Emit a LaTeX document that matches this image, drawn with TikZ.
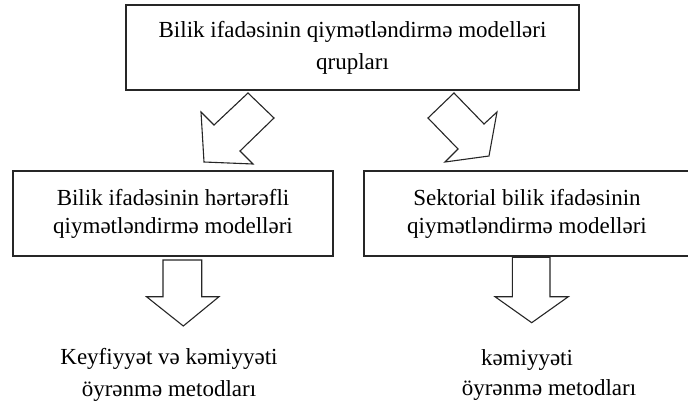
\documentclass[tikz,border=0pt]{standalone}
\usepackage{fontspec}
\setmainfont{Liberation Serif}
\begin{document}
\begin{tikzpicture}[x=1pt,y=-1pt,
  box/.style={draw=black!85, line width=1.1pt, inner sep=0pt, align=center, font=\fontsize{23}{28}\selectfont},
  blockarrow/.style={draw=black!85, line width=1.1pt, fill=white, line join=miter},
  lbl/.style={inner sep=0pt, align=center, font=\fontsize{23}{32}\selectfont}]
\useasboundingbox (0,0) rectangle (688,412);
\node[box, minimum width=453pt, minimum height=85pt, font=\fontsize{23}{32}\selectfont] (top) at (352.5,47.5) {Bilik ifadəsinin qiymətləndirmə modelləri\\qrupları};
\node[box, minimum width=320pt, minimum height=85pt] (left) at (173,213.5) {Bilik ifadəsinin hərtərəfli\\qiymətləndirmə modelləri};
\node[box, minimum width=326pt, minimum height=85pt] (right) at (527,213.5) {Sektorial bilik ifadəsinin\\qiymətləndirmə modelləri};
% block arrows
\draw[blockarrow] (248,93) -- (274,118) -- (240,151) -- (253,164) -- (204,162) -- (201,112) -- (214,125) -- cycle;
\draw[blockarrow] (454,93) -- (428,118) -- (458,149) -- (445,162) -- (489,156) -- (497,112) -- (484,124) -- cycle;
\draw[blockarrow] (163,260) -- (201.7,260) -- (201.7,296.7) -- (219,296.7) -- (183.3,326) -- (146.5,296.7) -- (163,296.7) -- cycle;
\draw[blockarrow] (512.3,257.3) -- (550,257.3) -- (550,296.7) -- (568.3,296.7) -- (531.7,322.7) -- (495,296.7) -- (512.3,296.7) -- cycle;
% results
\node[lbl] (res1) at (169,375) {Keyfiyyət və kəmiyyəti\\öyrənmə metodları};
\node[lbl] (res2a) at (527,360) {kəmiyyəti};
\node[lbl] (res2b) at (549,390) {öyrənmə metodları};
\end{tikzpicture}
\end{document}
